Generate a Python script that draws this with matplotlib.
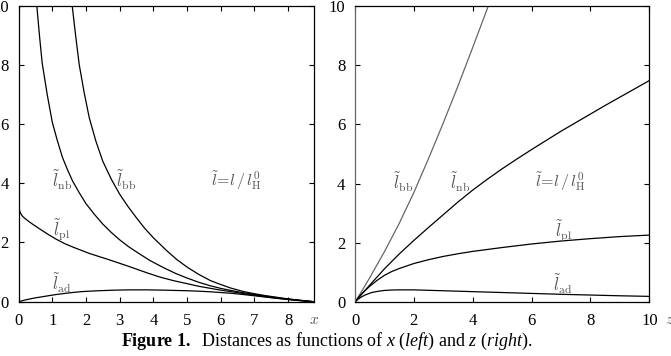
import matplotlib
matplotlib.use("Agg")
import matplotlib.pyplot as plt

plt.rcParams['font.family'] = ['Liberation Serif', 'DejaVu Serif']
plt.rcParams['mathtext.fontset'] = 'custom'
plt.rcParams['mathtext.rm'] = 'Liberation Serif'
plt.rcParams['mathtext.it'] = 'Liberation Serif:italic'
plt.rcParams['mathtext.bf'] = 'Liberation Serif:bold'

# left panel: distances vs x
x_bb = [1.59, 1.7, 1.8, 1.95, 2.1, 2.3, 2.5, 2.75, 3.0, 3.25, 3.5, 3.75, 4.0, 4.4, 4.7,
        5.0, 5.35, 5.7, 6.0, 6.3, 6.65, 7.0, 7.3, 7.6, 7.9, 8.2, 8.5, 8.75]
l_bb = [10, 8.92, 8.0, 7.04, 6.2, 5.4, 4.74, 4.14, 3.63, 3.21, 2.83, 2.47, 2.16, 1.72, 1.42,
        1.17, 0.92, 0.71, 0.58, 0.46, 0.35, 0.27, 0.21, 0.16, 0.11, 0.07, 0.032, 0]
x_nb = [0.54, 0.62, 0.7, 0.85, 1.0, 1.15, 1.3, 1.45, 1.6, 1.8, 2.0, 2.25, 2.5, 2.75, 3.0,
        3.25, 3.5, 3.9, 4.3, 4.65, 5.0, 5.35, 5.7, 6.0, 6.3, 6.65, 7.0, 7.3, 7.6, 7.9, 8.2, 8.5, 8.75]
l_nb = [10, 8.98, 8.06, 6.99, 6.06, 5.44, 4.88, 4.46, 4.08, 3.68, 3.31, 2.95, 2.62, 2.34, 2.09,
        1.87, 1.68, 1.39, 1.15, 0.96, 0.8, 0.655, 0.535, 0.45, 0.38, 0.305, 0.245, 0.19, 0.145,
        0.1, 0.062, 0.028, 0]
x_pl = [0, 0.01, 0.03, 0.07, 0.12, 0.19, 0.3, 0.45, 0.65, 0.88, 1.1, 1.37, 1.6, 1.87, 2.1,
        2.4, 2.65, 2.86, 3.2, 3.5, 3.85, 4.2, 4.6, 5.0, 5.35, 5.7, 6.0, 6.3, 6.65, 7.0, 7.3,
        7.6, 7.9, 8.2, 8.5, 8.75]
l_pl = [3.32, 3.18, 3.07, 2.96, 2.88, 2.81, 2.71, 2.59, 2.44, 2.27, 2.12, 1.96, 1.85, 1.73, 1.63,
        1.52, 1.43, 1.35, 1.22, 1.1, 0.96, 0.83, 0.71, 0.61, 0.52, 0.45, 0.39, 0.34, 0.28, 0.22,
        0.175, 0.13, 0.09, 0.055, 0.025, 0]
x_ad = [0, 0.15, 0.3, 0.5, 0.88, 1.1, 1.37, 1.6, 1.87, 2.1, 2.36, 2.6, 2.86, 3.3, 3.8, 4.3,
        4.65, 5.0, 5.35, 5.68, 6.0, 6.3, 6.65, 7.0, 7.3, 7.6, 7.9, 8.2, 8.5, 8.75]
l_ad = [0, 0.045, 0.085, 0.13, 0.2, 0.24, 0.28, 0.31, 0.34, 0.355, 0.37, 0.38, 0.39, 0.4, 0.4,
        0.39, 0.38, 0.37, 0.355, 0.335, 0.31, 0.285, 0.245, 0.2, 0.16, 0.12, 0.085, 0.05, 0.022, 0]

# right panel: distances vs z
z_bb = [0, 0.25, 0.5, 1.0, 1.5, 2.0, 2.5, 3.0, 3.5, 4.0, 4.53]
lz_bb = [0, 0.4, 0.82, 1.7, 2.65, 3.7, 4.85, 6.05, 7.3, 8.6, 10]
z_nb = [0, 0.25, 0.5, 1.0, 1.5, 2.0, 2.5, 3.0, 3.5, 4.0, 4.5, 5.0, 5.5, 6.0, 6.5, 7.0, 7.5,
        8.0, 8.5, 9.0, 9.5, 10]
lz_nb = [0, 0.29, 0.57, 1.12, 1.62, 2.08, 2.52, 2.95, 3.38, 3.78, 4.15, 4.5, 4.83, 5.15, 5.46,
         5.77, 6.06, 6.35, 6.64, 6.92, 7.2, 7.48]
z_pl = [0, 0.1, 0.25, 0.5, 0.75, 1.0, 1.25, 1.5, 2.0, 2.5, 3.0, 3.5, 4.0, 5.0, 6.0, 7.0, 8.0,
        9.0, 10]
lz_pl = [0, 0.13, 0.3, 0.53, 0.73, 0.9, 1.03, 1.13, 1.3, 1.43, 1.54, 1.63, 1.71, 1.84, 1.96,
         2.06, 2.14, 2.21, 2.26]
z_ad = [0, 0.1, 0.2, 0.35, 0.57, 0.8, 1.0, 1.25, 1.5, 2.0, 2.5, 3.0, 4.0, 5.0, 6.0, 7.0, 8.0,
        9.0, 10]
lz_ad = [0, 0.09, 0.16, 0.24, 0.32, 0.365, 0.39, 0.405, 0.41, 0.41, 0.395, 0.38, 0.35, 0.32,
         0.29, 0.26, 0.235, 0.21, 0.19]

left_xticks = [0, 1, 2, 3, 4, 5, 6, 7, 8]
right_xticks = [0, 2, 4, 6, 8, 10]
yticks = [0, 2, 4, 6, 8, 10]

W, H = 671, 356
fig = plt.figure(figsize=(W / 100, H / 100), dpi=100)

ax1 = fig.add_axes([18.6 / W, (H - 301.7) / H, (314 - 18.6) / W, (301.7 - 5.5) / H])
ax2 = fig.add_axes([355 / W, (H - 302) / H, (649.3 - 355) / W, (302 - 6) / H])

lc = 'black'
lw = 0.9
ax1.plot(x_bb, l_bb, color=lc, lw=lw)
ax1.plot(x_nb, l_nb, color=lc, lw=lw)
ax1.plot(x_pl, l_pl, color=lc, lw=lw)
ax1.plot(x_ad, l_ad, color=lc, lw=lw)

ax2.plot(z_bb, lz_bb, color='#666666', lw=lw)
ax2.plot(z_nb, lz_nb, color=lc, lw=lw)
ax2.plot(z_pl, lz_pl, color=lc, lw=lw)
ax2.plot(z_ad, lz_ad, color=lc, lw=lw)

ax1.set_xlim(0, 8.77)
ax2.set_xlim(0, 10)
ax1.set_xticks(left_xticks)
ax2.set_xticks(right_xticks)

for ax in (ax1, ax2):
    ax.set_ylim(0, 10)
    ax.set_yticks(yticks)
    ax.tick_params(direction='in', length=3.5, width=0.8, top=True, right=True,
                   labelsize=12, colors='black')
    ax.tick_params(axis='x', pad=8)
    ax.tick_params(axis='y', pad=7)
    for s in ax.spines.values():
        s.set_linewidth(0.9)
ax2.spines['left'].set_color('#666666')

tc = '#555555'
fs = 12
mf = 'cm'
ax1.text(1.28, 4.1, r'$\tilde{l}_{\rm nb}$', color=tc, fontsize=fs, ha='center', va='center', math_fontfamily=mf)
ax1.text(3.2, 4.1, r'$\tilde{l}_{\rm bb}$', color=tc, fontsize=fs, ha='center', va='center', math_fontfamily=mf)
ax1.text(6.47, 4.1, r'$\tilde{l}\!=\!l\,/\,l^0_{\rm H}$', color=tc, fontsize=11.5, ha='center', va='center', math_fontfamily=mf)
ax1.text(1.28, 2.42, r'$\tilde{l}_{\rm pl}$', color=tc, fontsize=fs, ha='center', va='center', math_fontfamily=mf)
ax1.text(1.28, 0.63, r'$\tilde{l}_{\rm ad}$', color=tc, fontsize=fs, ha='center', va='center', math_fontfamily=mf)

ax2.text(1.62, 4.06, r'$\tilde{l}_{\rm bb}$', color=tc, fontsize=fs, ha='center', va='center', math_fontfamily=mf)
ax2.text(3.59, 4.06, r'$\tilde{l}_{\rm nb}$', color=tc, fontsize=fs, ha='center', va='center', math_fontfamily=mf)
ax2.text(6.97, 4.06, r'$\tilde{l}\!=\!l\,/\,l^0_{\rm H}$', color=tc, fontsize=11.5, ha='center', va='center', math_fontfamily=mf)
ax2.text(7.08, 2.4, r'$\tilde{l}_{\rm pl}$', color=tc, fontsize=fs, ha='center', va='center', math_fontfamily=mf)
ax2.text(7.05, 0.6, r'$\tilde{l}_{\rm ad}$', color=tc, fontsize=fs, ha='center', va='center', math_fontfamily=mf)

# axis names next to the last tick label
ax1.text(1.0, -18.5 / 296, r'$x$', transform=ax1.transAxes, color=tc, fontsize=11,
         ha='center', va='center', math_fontfamily=mf)
ax2.text(1.07, -18.5 / 296, r'$z$', transform=ax2.transAxes, color=tc, fontsize=11,
         ha='center', va='center', math_fontfamily=mf)

fig.text(327 / W, (H - 341) / H,
         r'$\mathbf{Figure\ 1.}$  Distances as functions of $x$ ($\mathit{left}$) and $z$ ($\mathit{right}$).',
         ha='center', va='center', fontsize=13)

fig.savefig('out.png', dpi=100)
